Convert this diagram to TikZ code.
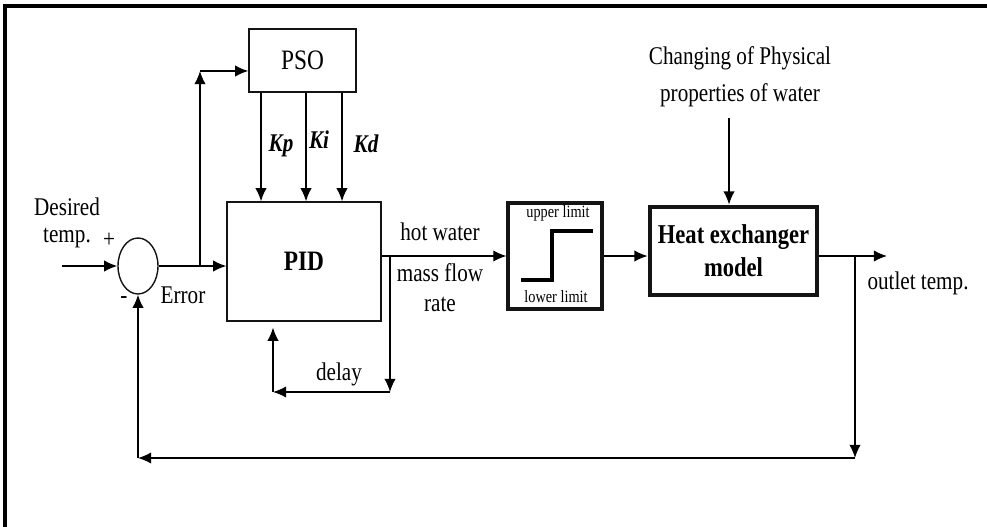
\documentclass[tikz,border=0pt]{standalone}
\usepackage{fontspec}
\setmainfont{Liberation Serif}[FakeStretch=0.83]
\usepackage{xcolor}
\usetikzlibrary{shapes, arrows.meta, positioning}

\begin{document}
\begin{tikzpicture}[x=0.02cm, y=-0.02cm, >={Latex[length=7.5pt, width=6.5pt]}]

	\definecolor{my_black}{RGB}{20,20,20}

\tikzstyle{block} = [rectangle, draw=my_black, line width=0.8pt, text centered, inner sep=0pt, font=\fontsize{16}{18}\selectfont]
\tikzstyle{sumpoint} = [ellipse, draw=my_black, line width=0.8pt, minimum width=0.8cm, minimum height=1.12cm, inner sep=0pt]
\tikzstyle{limitbox} = [rectangle, draw=my_black, line width=1.8pt, minimum width=1.88cm, minimum height=2.12cm]
\tikzstyle{plantbox} = [rectangle, draw=my_black, line width=2.8pt, minimum width=3.34cm, minimum height=1.76cm, align=center, font=\fontsize{15.5}{18.7}\selectfont\bfseries]
\tikzstyle{txt} = [align=center, inner sep=0pt, font=\fontsize{14.5}{17}\selectfont]
\tikzstyle{gain} = [inner sep=0pt, font=\fontsize{14.5}{17}\selectfont\bfseries\itshape]
\tikzstyle{small} = [inner sep=0pt, font=\fontsize{9.8}{11}\selectfont]
\tikzstyle{line} = [draw, line width=0.8pt]

	\useasboundingbox (0,0) rectangle (987,527);
	\draw [line width=1.8pt] (5,527) -- (5,6) -- (987,6);

	\node [sumpoint] (sum) at (138,266) {};
	\node [block, minimum width=3.08cm, minimum height=2.38cm, font=\fontsize{16}{18}\selectfont\bfseries] (pid) at (304,261.5) {PID};
	\node [block, minimum width=2.14cm, minimum height=1.26cm] (pso) at (302.5,60.5) {PSO};
	\node [limitbox] (limiter) at (555,256) {};
	\node [plantbox] (plant) at (733.5,251) {Heat exchanger\\model};

	\node [txt, font=\fontsize{14.5}{15.5}\selectfont] (desired) at (67,223) {Desired\\temp.};
	\node [txt] (plus) at (109,240) {+};
	\node [txt] (minus) at (124,300) {-};
	\node [txt] (error) at (183,295) {Error};
	\node [txt] (hot) at (440,232) {hot water};
	\node [txt] (flow) at (440,288) {mass flow\\rate};
	\node [txt] (delay) at (339,374) {delay};
	\node [txt, font=\fontsize{14.5}{21}\selectfont] (change) at (740,77) {Changing of Physical\\properties of water};
	\node [txt] (outlet) at (918,283) {outlet temp.};

	\node [gain] (kp_lbl) at (281,146) {Kp};
	\node [gain] (ki_lbl) at (319,140) {Ki};
	\node [gain] (kd_lbl) at (366,144) {Kd};

	\node [small] (upper) at (558,213) {upper limit};
	\node [small] (lower) at (556,297) {lower limit};

	\coordinate (inp) at (62,266);
	\coordinate (c1) at (200,266);
	\coordinate (c2) at (200,71);
	\coordinate (kp) at (261,0);
	\coordinate (ki) at (306,0);
	\coordinate (kd) at (342,0);
	\coordinate (c3) at (390,256);
	\coordinate (c4) at (390,392);
	\coordinate (c5) at (273,392);
	\coordinate (c6) at (855,256);
	\coordinate (c7) at (855,458);
	\coordinate (c8) at (138,458);
	\coordinate (c9) at (729,118);
	\coordinate (out) at (887,256);

	% step of the limiter
	\draw [line width=1.8pt] (521,280) -- (552,280) -- (552,231) -- (593,231);

	\path [line, ->] (inp) -- (sum.west);
	\path [line, ->] (sum.east) -- (pid.west |- sum.east);
	\path [line, ->] (c1) -- (c2);
	\path [line, ->] (c2) -- (pso.west |- c2);
	\path [line, ->] (pso.south -| kp) -- (pid.north -| kp);
	\path [line, ->] (pso.south -| ki) -- (pid.north -| ki);
	\path [line, ->] (pso.south -| kd) -- (pid.north -| kd);
	\path [line, ->] (pid.east |- c3) -- (limiter.west |- c3);
	\path [line, ->] (c3) -- (c4);
	\path [line, ->] (c4) -- (c5);
	\path [line, ->, shorten >=3.4pt] (c5) -- (pid.south -| c5);
	\path [line, ->] (limiter.east) -- (plant.west |- limiter.east);
	\path [line, ->] (c9) -- (plant.north -| c9);
	\path [line, ->] (plant.east |- out) -- (out);
	\path [line, ->] (c6) -- (c7);
	\path [line, ->] (c7) -- (c8);
	\path [line, ->] (c8) -- (sum.south);

\end{tikzpicture}
\end{document}
